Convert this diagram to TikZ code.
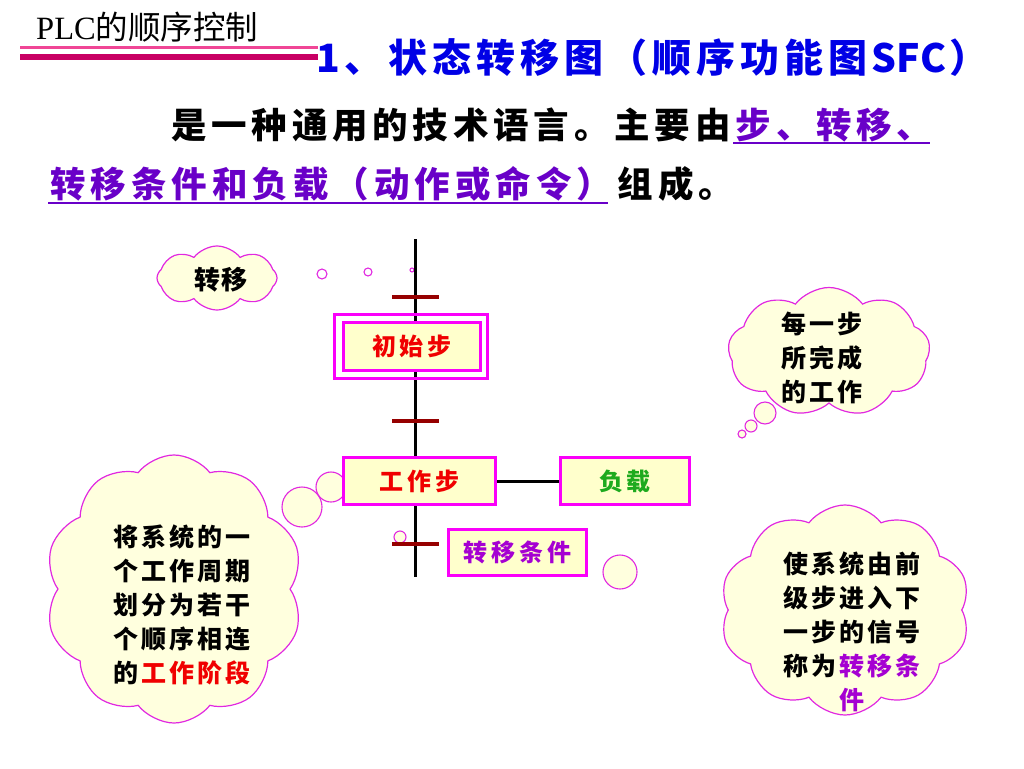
\documentclass[tikz,border=0pt]{standalone}
\usepackage{fontspec}
\setmainfont{Noto Sans CJK SC}
\newfontfamily\serifL{Liberation Serif}
\usetikzlibrary{shapes.symbols}
\definecolor{boxmag}{RGB}{250,0,250}
\definecolor{boxfill}{RGB}{255,255,204}
\definecolor{cloudline}{RGB}{225,40,225}
\definecolor{cloudfill}{RGB}{255,255,222}
\definecolor{barred}{RGB}{150,0,0}
\definecolor{titleblue}{RGB}{0,0,230}
\definecolor{violetx}{RGB}{105,0,200}
\definecolor{magtext}{RGB}{165,0,210}
\definecolor{redtext}{RGB}{240,0,0}
\definecolor{greentext}{RGB}{30,170,30}
\definecolor{pinkline}{RGB}{240,70,150}
\definecolor{darkpink}{RGB}{200,0,100}
\newdimen\lsamt
\makeatletter
\newcommand\spc[2]{\lsamt=#1\relax\spc@#2\relax}
\def\spc@#1#2{#1\ifx\relax#2\else\kern\lsamt\expandafter\spc@\expandafter#2\fi}
\makeatother
\tikzset{
  stepbox/.style={draw=boxmag, line width=3pt, fill=boxfill, inner sep=0pt},
  thought/.style={cloud, draw=cloudline, fill=cloudfill, line width=1.2pt, inner sep=0pt, cloud ignores aspect, cloud puff arc=105},
  bubble/.style={draw=cloudline, fill=cloudfill, line width=1.1pt},
  ebubble/.style={draw=cloudline, fill=white, line width=1.1pt},
  bar/.style={draw=barred, line width=3.5pt},
  link/.style={draw=black, line width=3pt},
  boxtext/.style={font=\fontsize{24}{26}\selectfont\bfseries},
  cloudtext/.style={font=\fontsize{25}{34}\selectfont\bfseries, align=center, inner sep=0pt},
  bodytext/.style={font=\fontsize{35.5}{38}\selectfont\bfseries, inner sep=0pt, anchor=west},
  uline/.style={draw=violetx, line width=2pt}
}
\begin{document}
\begin{tikzpicture}[x=1pt,y=-1pt]
\useasboundingbox (0,0) rectangle (1024,768);
% header
\node[anchor=west, inner sep=0pt, font=\fontsize{32.5}{34}\selectfont] (hdr) at (36,27) {{\serifL PLC}的顺序控制};
\coordinate (hl1a) at (20,48); \coordinate (hl1b) at (318,48);
\coordinate (hl2a) at (20,57); \coordinate (hl2b) at (318,57);
\draw[pinkline, line width=3pt] (hl1a) -- (hl1b);
\draw[darkpink, line width=6pt] (hl2a) -- (hl2b);
% title
\node[anchor=west, inner sep=0pt, text=titleblue, font=\fontsize{39}{42}\selectfont\bfseries] (title) at (316,58)
  {\spc{5pt}{1、状态转移图（顺序功能图}\kern4pt SFC\kern4pt ）};
% body lines
\node[bodytext] (l1a) at (171,125) {\spc{4.8pt}{是一种通用的技术语言。主要由}};
\node[bodytext, text=violetx] (l1b) at ([xshift=4.8pt]l1a.east) {\spc{4.8pt}{步、转移、}};
\node[bodytext, text=violetx] (l2a) at (50,184) {\spc{5pt}{转移条件和负载（动作或命令）}};
\node[bodytext] (l2b) at ([xshift=5pt]l2a.east) {\spc{5pt}{组成。}};
\coordinate (u1a) at (733,143); \coordinate (u1b) at (930,143);
\coordinate (u2a) at (48,203); \coordinate (u2b) at (608,203);
\draw[uline] (u1a) -- (u1b);
\draw[uline] (u2a) -- (u2b);
% clouds
\node[thought, cloud puffs=8, minimum width=120pt, minimum height=64pt] (c1) at (217,278) {};
\node[thought, cloud puffs=9, minimum width=202pt, minimum height=129pt] (c2) at (829,352) {};
\node[thought, cloud puffs=10, minimum width=250pt, minimum height=210pt] (c3) at (845,610) {};
\node[thought, cloud puffs=10, minimum width=258pt, minimum height=268pt] (c4) at (174,589) {};
% bubbles
\draw[ebubble] (322,274) circle (5);
\draw[ebubble] (368,272) circle (4);
\draw[ebubble] (412,270) circle (2);
\draw[bubble] (302,507) circle (20);
\draw[bubble] (331,487) circle (15);
\draw[bubble] (400,537) circle (6);
\draw[bubble] (620,572) circle (17);
\draw[bubble] (765,413) circle (11);
\draw[bubble] (751,426) circle (6);
\draw[bubble] (742,434) circle (4);
% cloud texts
\node[cloudtext, font=\fontsize{26}{30}\selectfont\bfseries] (c1t) at (221,280) {\spc{2pt}{转移}};
\node[cloudtext] (c2t) at (822,358) {\spc{3pt}{每一步}\\\spc{3pt}{所完成}\\\spc{3pt}{的工作}};
\node[cloudtext] (c3t) at (852,632) {\spc{3pt}{使系统由前}\\\spc{3pt}{级步进入下}\\\spc{3pt}{一步的信号}\\\spc{3pt}{称为}\kern3pt{\color{magtext}\spc{3pt}{转移条}}\\{\color{magtext}件}};
\node[cloudtext] (c4t) at (182,605) {\spc{3pt}{将系统的一}\\\spc{3pt}{个工作周期}\\\spc{3pt}{划分为若干}\\\spc{3pt}{个顺序相连}\\的\kern3pt{\color{redtext}\spc{3pt}{工作阶段}}};
% SFC spine
\coordinate (top) at (415,239);
\coordinate (bottom) at (415,577);
\draw[link] (top) -- (bottom);
\coordinate (t1) at (415,297);
\coordinate (t2) at (415,421);
\coordinate (t3) at (415,544);
\draw[bar] ([xshift=-23pt]t1) -- ([xshift=24pt]t1);
\draw[bar] ([xshift=-23pt]t2) -- ([xshift=24pt]t2);
\draw[bar] ([xshift=-23pt]t3) -- ([xshift=24pt]t3);
% steps
\node[draw=boxmag, line width=3pt, inner sep=0pt, minimum width=153pt, minimum height=64pt] (initout) at (411,346.5) {};
\node[stepbox, minimum width=137pt, minimum height=48pt, boxtext, text=redtext] (init) at (412,346.5) {\spc{4pt}{初始步}};
\node[stepbox, minimum width=152pt, minimum height=47pt, boxtext, text=redtext] (work) at (419.5,481) {\spc{4pt}{工作步}};
\node[stepbox, minimum width=129pt, minimum height=47pt, boxtext, text=greentext] (load) at (625,481) {\spc{4pt}{负载}};
\node[stepbox, minimum width=138pt, minimum height=46pt, boxtext, text=magtext] (cond) at (517.5,552.5) {\spc{4pt}{转移条件}};
\draw[link] (work.east) -- (load.west);
\end{tikzpicture}
\end{document}
